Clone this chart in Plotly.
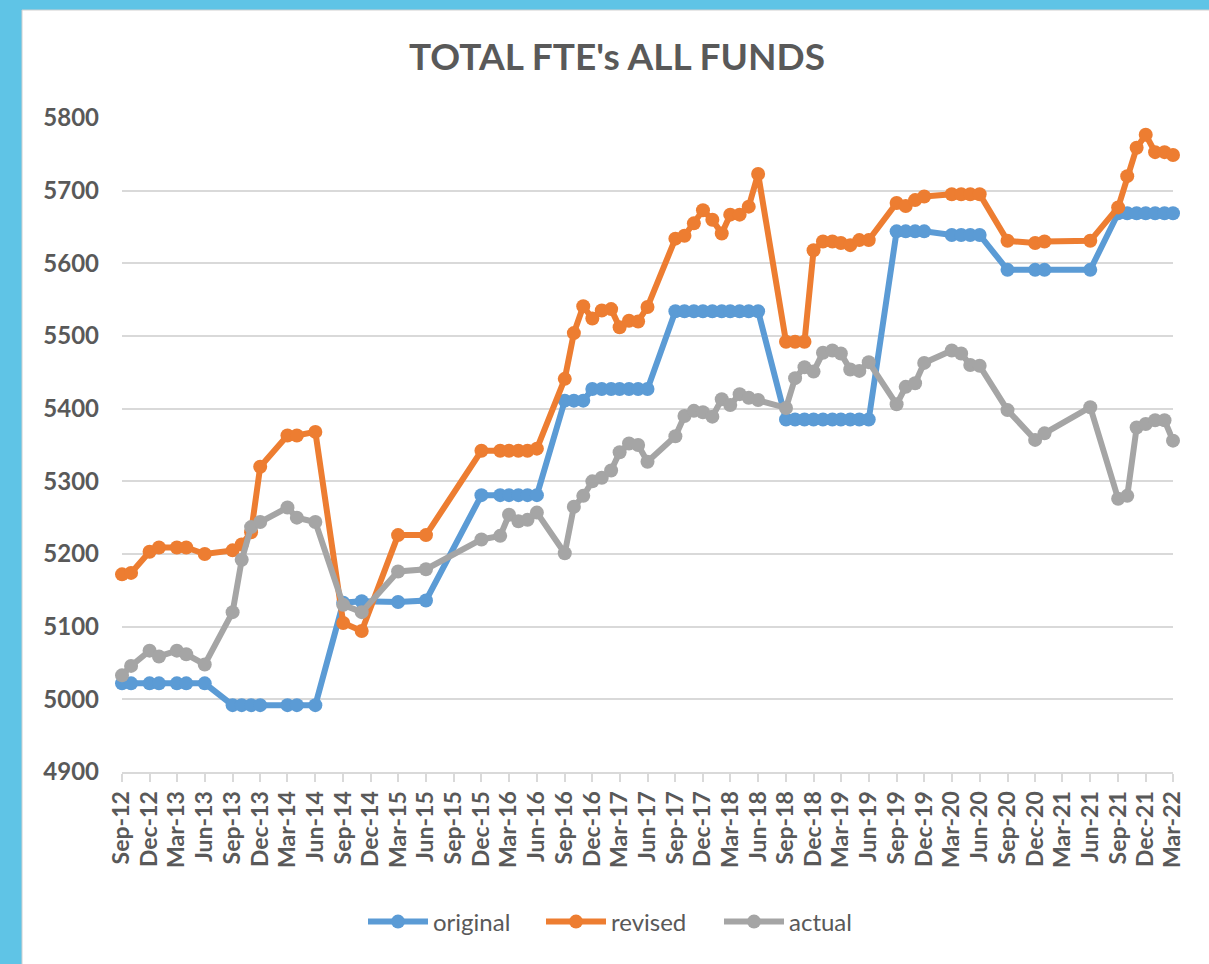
import plotly.graph_objects as go

# month offsets from Sep-2012 for each plotted point
month_offsets = [0, 1, 3, 4, 6, 7, 9,
                 12, 13, 14, 15, 18, 19, 21,
                 24, 26, 30, 33,
                 39, 41, 42, 43, 44, 45,
                 48, 49, 50, 51, 52, 53, 54, 55, 56, 57,
                 60, 61, 62, 63, 64, 65, 66, 67, 68, 69,
                 72, 73, 74, 75, 76, 77, 78, 79, 80, 81,
                 84, 85, 86, 87, 90, 91, 92, 93,
                 96, 99, 100, 105,
                 108, 109, 110, 111, 112, 113, 114]

original = [5022, 5022, 5022, 5022, 5022, 5022, 5022,
            4992, 4992, 4992, 4992, 4992, 4992, 4992,
            5133, 5135, 5134, 5136,
            5281, 5281, 5281, 5281, 5281, 5281,
            5411, 5411, 5411, 5427, 5427, 5427, 5427, 5427, 5427, 5427,
            5534, 5534, 5534, 5534, 5534, 5534, 5534, 5534, 5534, 5534,
            5385, 5385, 5385, 5385, 5385, 5385, 5385, 5385, 5385, 5385,
            5644, 5644, 5644, 5644, 5639, 5639, 5639, 5639,
            5591, 5591, 5591, 5591,
            5669, 5669, 5669, 5669, 5669, 5669, 5669]

revised = [5172, 5174, 5203, 5209, 5209, 5209, 5200,
           5205, 5213, 5230, 5320, 5363, 5363, 5368,
           5105, 5094, 5226, 5226,
           5342, 5342, 5342, 5342, 5342, 5345,
           5441, 5504, 5541, 5524, 5535, 5537, 5512, 5521, 5520, 5540,
           5634, 5638, 5655, 5673, 5660, 5641, 5667, 5667, 5678, 5723,
           5492, 5492, 5492, 5618, 5630, 5630, 5628, 5625, 5632, 5632,
           5683, 5679, 5687, 5692, 5695, 5695, 5695, 5695,
           5631, 5628, 5630, 5631,
           5677, 5720, 5759, 5777, 5753, 5753, 5749]

actual = [5033, 5046, 5067, 5059, 5067, 5062, 5048,
          5120, 5192, 5237, 5244, 5264, 5250, 5244,
          5130, 5120, 5176, 5179,
          5220, 5225, 5254, 5245, 5247, 5257,
          5201, 5265, 5280, 5300, 5305, 5315, 5340, 5352, 5350, 5327,
          5362, 5390, 5397, 5395, 5389, 5413, 5405, 5420, 5415, 5412,
          5401, 5442, 5457, 5451, 5477, 5480, 5476, 5454, 5452, 5464,
          5406, 5430, 5435, 5463, 5480, 5476, 5460, 5459,
          5398, 5357, 5366, 5402,
          5276, 5280, 5374, 5379, 5384, 5384, 5356]

series_names = ["original", "revised", "actual"]
series_colors = ["#5b9bd5", "#ed7d31", "#a5a5a5"]
y_ticks = [4900, 5000, 5100, 5200, 5300, 5400, 5500, 5600, 5700, 5800]


def month_to_date(off):
    total = 2012 * 12 + 8 + off  # Sep-2012 = month index 8
    y, m = divmod(total, 12)
    return f"{y:04d}-{m + 1:02d}-01"


dates = [month_to_date(o) for o in month_offsets]

FONT = "Lato, 'Open Sans', sans-serif"
TXT = "#595959"

fig = go.Figure()
for name, vals, col in zip(series_names, [original, revised, actual], series_colors):
    fig.add_trace(go.Scatter(
        x=dates, y=vals, name=name, mode="lines+markers",
        line=dict(color=col, width=6),
        marker=dict(color=col, size=14),
        cliponaxis=False,
    ))

W, H = 1209, 964
L, R, T, B = 122, W - 1173, 118, H - 772
pw, ph = W - L - R, H - T - B

# white chart area on a cyan slide background
fig.add_shape(type="rect", xref="paper", yref="paper",
              x0=(22 - L) / pw, x1=(W + 5 - L) / pw,
              y0=(H - B - (H + 5)) / ph, y1=(H - B - 10) / ph,
              fillcolor="white", line=dict(color="#d0d0d0", width=1), layer="below")

fig.update_layout(
    width=W, height=H,
    margin=dict(l=L, r=R, t=T, b=B),
    paper_bgcolor="#5fc4e6",
    plot_bgcolor="rgba(0,0,0,0)",
    title=dict(text="<b>TOTAL FTE's ALL FUNDS</b>", x=(617 - L) / pw, xref="paper",
               xanchor="center", y=1 - 57 / H, yanchor="middle",
               font=dict(family=FONT, size=37, color=TXT)),
    showlegend=True,
    legend=dict(orientation="h", x=(630 - L) / pw, xanchor="center",
                y=(H - B - 922) / ph, yanchor="middle",
                font=dict(family=FONT, size=24, color=TXT),
                bgcolor="rgba(0,0,0,0)", itemwidth=60,
                entrywidth=103, entrywidthmode="pixels"),
    xaxis=dict(type="date", range=[month_to_date(0), month_to_date(114)],
               tick0=month_to_date(0), dtick="M3", tickformat="%b-%y",
               tickangle=-90, showgrid=False, showline=True,
               linecolor="#d9d9d9", linewidth=2, ticks="outside",
               tickcolor="#d9d9d9", ticklen=8, tickwidth=2,
               tickfont=dict(family=FONT, size=23, color=TXT, weight="bold"),
               zeroline=False),
    yaxis=dict(range=[4900, 5800], tickvals=y_ticks, showgrid=True,
               gridcolor="#d9d9d9", gridwidth=2, zeroline=False,
               showline=False, ticks="", ticklabelstandoff=22,
               tickfont=dict(family=FONT, size=24, color=TXT, weight="bold")),
    font=dict(family=FONT, color=TXT),
)

fig.write_html("out.html", config={"displayModeBar": False},
               post_script="document.body.style.margin='0px';document.body.style.background='#5fc4e6';")
